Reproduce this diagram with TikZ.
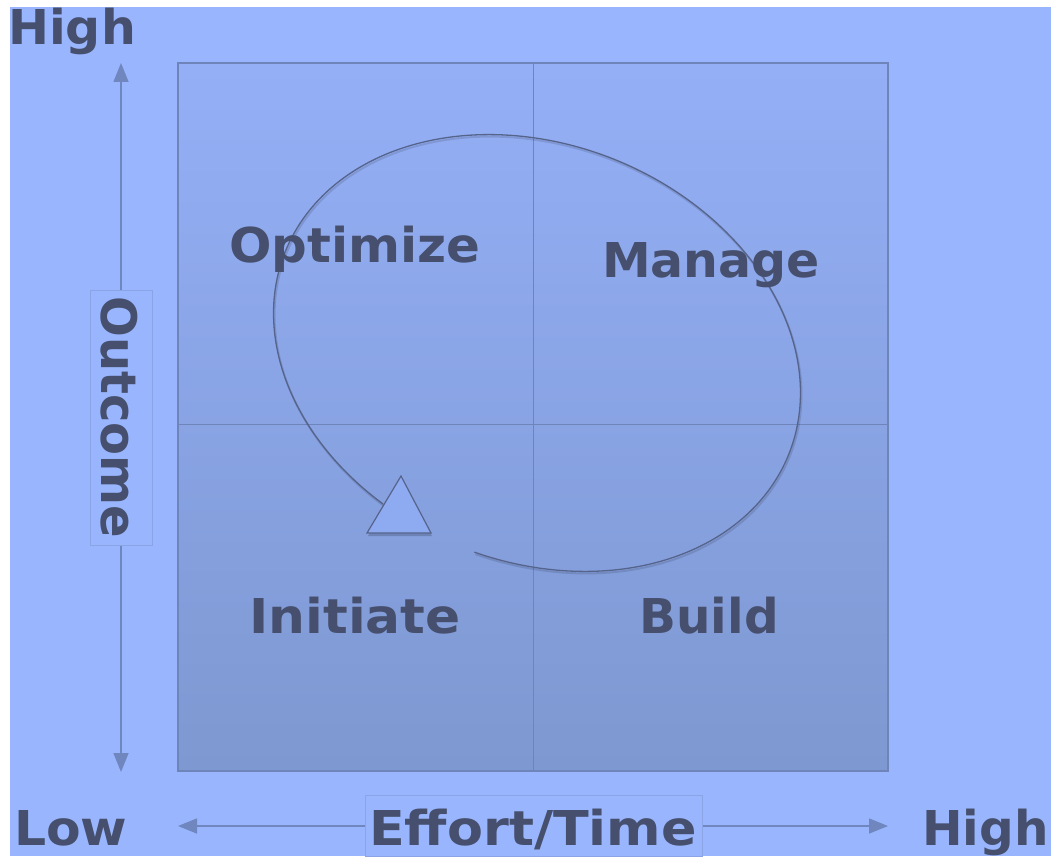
\documentclass[tikz,border=0pt]{standalone}
\usepackage{fontspec}
\setmainfont{DejaVu Sans}
\usetikzlibrary{arrows.meta}
\definecolor{bgblue}{HTML}{99B5FD}
\definecolor{sqtop}{HTML}{94AFF6}
\definecolor{sqbot}{HTML}{7E98D1}
\definecolor{txt}{HTML}{46506E}
\definecolor{gridc}{HTML}{6F84B8}
\definecolor{axisc}{HTML}{6F86BF}
\definecolor{curvec}{HTML}{56648C}
\definecolor{trifill}{HTML}{8EAAF0}
\definecolor{boxline}{HTML}{8BA4E6}
\begin{document}
\begin{tikzpicture}[x=1pt,y=-1pt,
  lbl/.style={font=\fontsize{48}{48}\selectfont\bfseries, text=txt, inner sep=0pt},
  labelbox/.style={fill=bgblue, draw=boxline, line width=0.6pt, inner sep=0pt},
  axisarrow/.style={axisc, line width=1.5pt, {Triangle[length=19pt,width=15pt]}-{Triangle[length=19pt,width=15pt]}},
  gridline/.style={gridc, line width=1pt},
  cycleline/.style={curvec, line width=1.3pt}]
% background
\fill[white] (0,0) rectangle (1051,856);
\fill[bgblue] (10,7) rectangle (1051,856);
\useasboundingbox (0,0) rectangle (1051,856);
% matrix square
\shade[top color=sqtop, bottom color=sqbot] (178,63) rectangle (888,771);
\draw[gridc, line width=1.6pt] (178,63) rectangle (888,771);
\draw[gridline] (533,63) -- (533,771);
\draw[gridline] (178,424) -- (888,424);
% axes
\coordinate (vtop) at (121,63);
\coordinate (vbot) at (121,772);
\coordinate (hl) at (178,826);
\coordinate (hr) at (888,826);
\draw[axisarrow] (vbot) -- (vtop);
\draw[axisarrow] (hl) -- (hr);
% axis labels
\node[labelbox, minimum width=62pt, minimum height=255pt] (obox) at (121,417.5) {};
\node[lbl, rotate=-90, anchor=base, yscale=1.02] (outcome) at (101,417.5) {Outcome};
\node[labelbox, minimum width=337pt, minimum height=61pt] (ebox) at (533.5,825.5) {};
\node[lbl, anchor=base, xscale=1.09] (effort) at (533,845) {Effort/Time};
\node[lbl, anchor=base west, xscale=1.02] (hightop) at (8,45) {High};
\node[lbl, anchor=base west, xscale=1.05] (low) at (14,845) {Low};
\node[lbl, anchor=base east, xscale=1.01] (highright) at (1049,845) {High};
% cycle
\draw[black, opacity=0.12, line width=2pt, shift={(1pt,-2pt)}] plot[domain=86.5:-251.5, samples=140, smooth, variable=\t]
  ({537 + 271.4*cos(\t)*cos(22) - 208.5*sin(\t)*sin(22)}, {353 + 271.4*cos(\t)*sin(22) + 208.5*sin(\t)*cos(22)});
\draw[cycleline] plot[domain=86.5:-251.5, samples=140, smooth, variable=\t]
  ({537 + 271.4*cos(\t)*cos(22) - 208.5*sin(\t)*sin(22)}, {353 + 271.4*cos(\t)*sin(22) + 208.5*sin(\t)*cos(22)});
\fill[black, opacity=0.18] (402,479) -- (368,536) -- (432,536) -- cycle;
\draw[curvec, fill=trifill, line width=1.2pt, line join=miter] (401,476) -- (367,533) -- (431,533) -- cycle;
% quadrant labels
\node[lbl, anchor=base, xscale=1.04] (optimize) at (355,262) {Optimize};
\node[lbl, anchor=base, xscale=1.02] (manage) at (711,277) {Manage};
\node[lbl, anchor=base, xscale=1.08] (initiate) at (355,633) {Initiate};
\node[lbl, anchor=base, xscale=1.01] (build) at (709,633) {Build};
\end{tikzpicture}
\end{document}
